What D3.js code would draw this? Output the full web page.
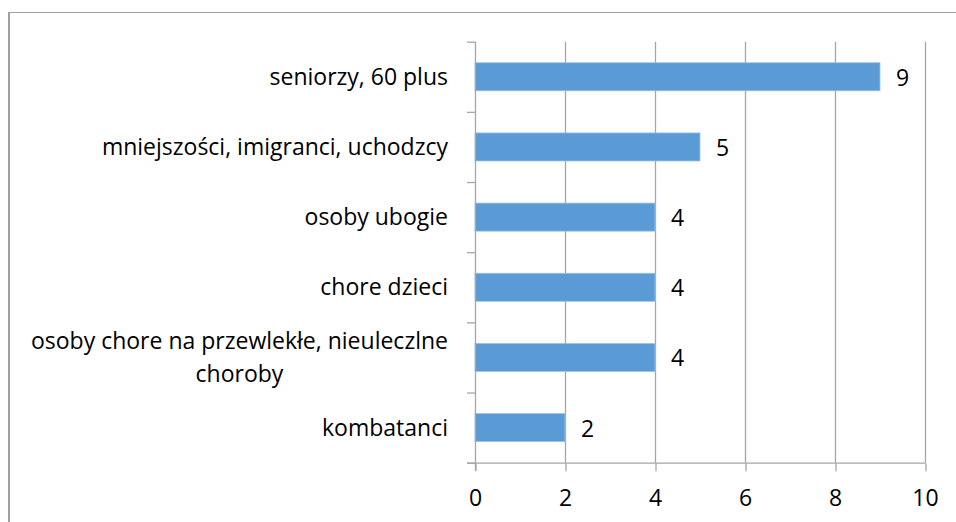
<!DOCTYPE html>
<html>
<head>
<meta charset="utf-8">
<script src="https://cdn.jsdelivr.net/npm/d3@7"></script>
<style>
  body { margin: 0; background: #fff; }
  svg text { font-family: "Open Sans", Lato, sans-serif; fill: #000; }
</style>
</head>
<body>
<script>
// data, top to bottom as in the chart
var categories = [
  "seniorzy, 60 plus",
  "mniejszości, imigranci, uchodzcy",
  "osoby ubogie",
  "chore dzieci",
  "osoby chore na przewlekłe, nieuleczlne choroby",
  "kombatanci"
];
var values = [9, 5, 4, 4, 4, 2];
var xTicks = [0, 2, 4, 6, 8, 10];

var width = 956, height = 522;
var fontSize = 23;

var svg = d3.select('body').append('svg')
  .attr('width', width).attr('height', height);

// chart border (right and bottom edges are outside the picture)
svg.append('line').attr('x1', 9).attr('x2', width).attr('y1', 12.5).attr('y2', 12.5)
  .attr('stroke', '#a0a0a0').attr('stroke-width', 1);
svg.append('line').attr('x1', 9).attr('x2', 9).attr('y1', 12).attr('y2', height)
  .attr('stroke', '#a0a0a0').attr('stroke-width', 2);

var x = d3.scaleLinear().domain([0, 10]).range([475, 925]);
var y = d3.scaleBand().domain(categories).range([41.7, 462.7])
  .paddingInner(0.6).paddingOuter(0.3);

var grid = '#a6a6a6';

// vertical gridlines
svg.selectAll('.grid').data(xTicks.slice(1)).enter().append('line')
  .attr('class', 'grid')
  .attr('x1', function (d) { return x(d) + 0.5; })
  .attr('x2', function (d) { return x(d) + 0.5; })
  .attr('y1', y.range()[0]).attr('y2', y.range()[1])
  .attr('stroke', grid).attr('stroke-width', 1.3);

// bars
svg.selectAll('.bar').data(values).enter().append('rect')
  .attr('class', 'bar')
  .attr('x', x(0))
  .attr('y', function (d, i) { return y(categories[i]); })
  .attr('width', function (d) { return x(d) - x(0); })
  .attr('height', y.bandwidth())
  .attr('fill', '#5b9bd5')
  .attr('stroke', '#9dc3e6').attr('stroke-width', 0.8);

// value labels
svg.selectAll('.val').data(values).enter().append('text')
  .attr('class', 'val')
  .attr('x', function (d) { return x(d) + 16; })
  .attr('y', function (d, i) { return y(categories[i]) + y.bandwidth() / 2 + 9; })
  .style('font-size', fontSize + 'px')
  .text(function (d) { return d; });

// y axis line and category tick marks at band boundaries
var yAxis = svg.append('g');
yAxis.append('line')
  .attr('x1', x(0) + 0.5).attr('x2', x(0) + 0.5)
  .attr('y1', y.range()[0]).attr('y2', y.range()[1] + 8)
  .attr('stroke', grid).attr('stroke-width', 1.3);
yAxis.selectAll('.ytick').data(d3.range(categories.length + 1)).enter().append('line')
  .attr('class', 'ytick')
  .attr('x1', x(0) - 8).attr('x2', x(0) + 0.5)
  .attr('y1', function (i) { return y.range()[0] + i * y.step() + 0.5; })
  .attr('y2', function (i) { return y.range()[0] + i * y.step() + 0.5; })
  .attr('stroke', grid).attr('stroke-width', 1.3);

// x axis
var xAxis = svg.append('g').attr('transform', 'translate(0,' + (y.range()[1] + 0.5) + ')')
  .call(d3.axisBottom(x).tickValues(xTicks).tickSize(8).tickPadding(10).tickSizeOuter(0));
xAxis.select('.domain').remove();
xAxis.append('line').attr('x1', x(0) - 8).attr('x2', x(10) + 0.5)
  .attr('stroke', grid).attr('stroke-width', 1.3);
xAxis.selectAll('.tick line').attr('stroke', grid).attr('stroke-width', 1.3)
  .attr('transform', 'translate(0.5,0)');
xAxis.selectAll('.tick text')
  .style('font-size', fontSize + 'px')
  .attr('font-family', null)
  .attr('dy', null).attr('y', 43);

// category labels, wrapped when too wide
var labelRight = 448, maxWidth = 430, lineGap = 33;
categories.forEach(function (c) {
  var cy = y(c) + y.bandwidth() / 2;
  var g = svg.append('text').style('font-size', fontSize + 'px');
  var words = c.split(' '), lines = [], line = [];
  words.forEach(function (w) {
    line.push(w);
    g.text(line.join(' '));
    if (g.node().getComputedTextLength() > maxWidth && line.length > 1) {
      line.pop();
      lines.push(line.join(' '));
      line = [w];
    }
  });
  lines.push(line.join(' '));
  g.text(null);
  var widest = 0;
  lines.forEach(function (l) {
    var t = g.append('tspan').text(l);
    widest = Math.max(widest, t.node().getComputedTextLength());
    t.remove();
  });
  var cx = labelRight - widest / 2;
  var base = cy + 8 - (lines.length - 1) * lineGap / 2;
  g.attr('text-anchor', 'middle');
  lines.forEach(function (l, k) {
    g.append('tspan').attr('x', cx).attr('y', base + k * lineGap).text(l);
  });
});
</script>
</body>
</html>
